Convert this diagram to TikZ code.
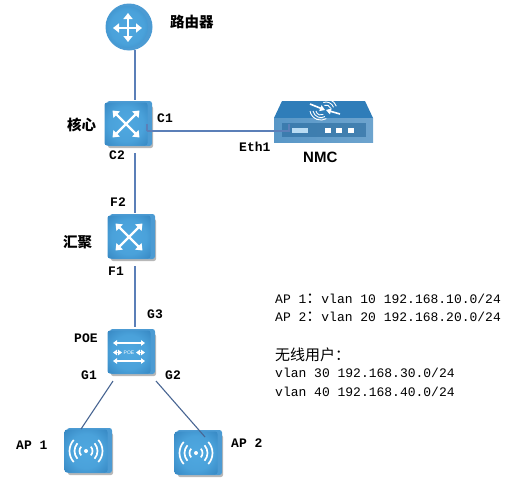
\documentclass[tikz,border=0pt]{standalone}
\usepackage{fontspec}
\usetikzlibrary{arrows.meta,shadings}
\newfontfamily\cjk{Noto Sans CJK SC}
\newfontfamily\lmono{Liberation Mono}
\newfontfamily\lsans{Liberation Sans}
\definecolor{faceedge}{HTML}{2F7DB9}
\definecolor{facemid}{HTML}{4FA8E0}
\definecolor{depthc}{HTML}{4C9BD3}
\definecolor{linkc}{HTML}{5B7FB8}
\pgfdeclareradialshading{facesh}{\pgfpointorigin}{color(0bp)=(facemid);color(20bp)=(facemid!85!faceedge);color(42bp)=(faceedge);color(100bp)=(faceedge)}
\tikzset{
  face/.style={rounded corners=2.5pt,minimum width=43pt,minimum height=43pt,inner sep=0pt,shading=facesh},
  link/.style={draw=linkc,line width=1.1pt},
  glyph/.style={draw=white,line width=2.4pt,line cap=butt},
  tip/.style={},
  arr/.style={glyph,{Triangle[length=6pt,width=9pt]}-{Triangle[length=6pt,width=9pt]}},
  thin arr/.style={draw=white,line width=1.3pt,{Triangle[length=4pt,width=5.5pt]}-{Triangle[length=4pt,width=5.5pt]}},
  cjklab/.style={font=\cjk\bfseries\fontsize{14.5}{16}\selectfont,text=black,inner sep=0pt},
  port/.style={font=\lmono\bfseries\fontsize{13}{15}\selectfont,text=black,inner sep=0pt},
  info/.style={font=\lmono\fontsize{13}{15}\selectfont,text=black,inner sep=0pt,anchor=west},
  infocjk/.style={font=\cjk\fontsize{15}{17}\selectfont,text=black,inner sep=0pt,anchor=west}
}
\newcommand{\devbody}[3]{%
  \fill[black!28,rounded corners=2pt] (#2-18,#3-18) rectangle (#2+27,#3+24);
  \fill[depthc,rounded corners=2.5pt] (#2-19,#3-23) rectangle (#2+26,#3+22);
  \node[face] (#1) at (#2,#3) {};
}
\newcommand{\crossglyph}[2]{%
  \draw[arr] (#1-13.5,#2-13.5) -- (#1+13.5,#2+13.5);
  \draw[arr] (#1-13.5,#2+13.5) -- (#1+13.5,#2-13.5);
}
\newcommand{\wifiglyph}[2]{%
  \fill[white] (#1,#2) circle (2pt);
  \foreach \r in {6.5,11.5,16.5}{
    \draw[white,line width=1.7pt] (#1,#2) ++(-42:\r pt) arc[start angle=-42,end angle=42,radius=\r pt];
    \draw[white,line width=1.7pt] (#1,#2) ++(138:\r pt) arc[start angle=138,end angle=222,radius=\r pt];
  }
}
\begin{document}
\begin{tikzpicture}[x=1pt,y=-1pt]
\useasboundingbox (0,0) rectangle (521,490);
% router
\fill[depthc] (129,27) circle (23.5pt);
\node[circle,minimum size=42pt,inner sep=0pt,shading=facesh] (router) at (127,27) {};
\draw[arr] (113,28) -- (142,28);
\draw[glyph,-{Triangle[length=6pt,width=9pt]}] (128,28) -- (128,13);
\draw[glyph,-{Triangle[length=6pt,width=9pt]}] (128,28) -- (128,42);
% devices
\devbody{core}{126}{124}
\crossglyph{126}{124}
\devbody{agg}{129}{237}
\crossglyph{129}{237}
\devbody{poe}{129}{352}
\draw[thin arr] (113,343) -- (145,343);
\draw[thin arr] (113,352.5) -- (122,352.5);
\draw[thin arr] (136,352.5) -- (145,352.5);
\draw[thin arr] (113,361) -- (145,361);
\node[font=\lsans\fontsize{5}{5}\selectfont,text=white,inner sep=0pt] (poetxt) at (129,352.5) {POE};
\devbody{ap1}{86}{451}
\wifiglyph{86}{451}
\devbody{ap2}{196}{453}
\wifiglyph{196}{453}
% NMC
\fill[faceedge] (282,101) -- (365,101) -- (373,118) -- (274,118) -- cycle;
\node[rectangle,minimum width=99pt,minimum height=24pt,inner sep=0pt,left color=faceedge!80!white,right color=faceedge!70!white] (nmc) at (323.5,130) {};
\fill[faceedge!85!black,opacity=.6] (282,123) rectangle (366,137);
\fill[white!60!facemid] (292,128) rectangle (308,132.5);
\fill[white] (325,128) rectangle (331,132.5);
\fill[white] (336,128) rectangle (342,132.5);
\fill[white] (348,128) rectangle (354,132.5);
\draw[white,line width=1.6pt,-{Triangle[length=5pt,width=6pt]}] (310,104) -- (325,110);
\draw[white,line width=1.6pt,-{Triangle[length=5pt,width=6pt]}] (340,114) -- (326,110);
\foreach \r in {5,8,11}{
  \draw[white,line width=.9pt] (321,106) ++(180:\r pt) ++(0,5) arc[start angle=190,end angle=300,radius=\r pt];
  \draw[white,line width=.9pt] (326,110) ++(20:\r pt) arc[start angle=20,end angle=110,radius=\r pt];
}
% connector ends
\coordinate (routerS) at (135,50);
\coordinate (coreN) at (135,100);
\coordinate (coreE) at (147,131);
\coordinate (coreS) at (135,153);
\coordinate (aggN) at (135,213);
\coordinate (aggS) at (135,266);
\coordinate (poeN) at (135,327);
\coordinate (poeSW) at (113,381);
\coordinate (poeSE) at (156,381);
\coordinate (ap1N) at (81,429);
\coordinate (ap2N) at (205,437);
\coordinate (nmcW) at (289,131);
\draw[link] (routerS) -- (coreN);
\draw[link] (coreE) -- (nmcW) -- ++(0,-7);
\draw[link] (coreE) -- ++(0,-7);
\draw[link] (coreS) -- (aggN);
\draw[link] (aggS) -- (poeN);
\draw[link,draw=linkc!80!black] (poeSW) -- (ap1N);
\draw[link,draw=linkc!80!black] (poeSE) -- (ap2N);
% labels
\node[cjklab,anchor=west] (l1) at (170,22) {路由器};
\node[cjklab,anchor=west] (l2) at (67,125) {核心};
\node[cjklab,anchor=west] (l3) at (63,242) {汇聚};
\node[port,anchor=west] (c1) at (157,118) {C1};
\node[port,anchor=west] (c2) at (109,155) {C2};
\node[port,anchor=west] (eth) at (239,147) {Eth1};
\node[font=\lsans\bfseries\fontsize{15}{15}\selectfont,inner sep=0pt,anchor=west] (nmclab) at (303,157) {NMC};
\node[port,anchor=west] (f2) at (110,202) {F2};
\node[port,anchor=west] (f1) at (108,271) {F1};
\node[port,anchor=west] (g3) at (147,314) {G3};
\node[port,anchor=west] (poel) at (74,338) {POE};
\node[port,anchor=west] (g1) at (81,375) {G1};
\node[port,anchor=west] (g2) at (165,375) {G2};
\node[port,anchor=west] (ap1l) at (16,445) {AP 1};
\node[port,anchor=west] (ap2l) at (231,443) {AP 2};
% info
\node[info] (i1) at (275,299) {AP 1{\cjk\fontsize{15}{17}\selectfont ：}vlan 10 192.168.10.0/24};
\node[info] (i2) at (275,317) {AP 2{\cjk\fontsize{15}{17}\selectfont ：}vlan 20 192.168.20.0/24};
\node[infocjk] (i3) at (275,355) {无线用户：};
\node[info] (i4) at (275,373) {vlan 30 192.168.30.0/24};
\node[info] (i5) at (275,392) {vlan 40 192.168.40.0/24};
\end{tikzpicture}
\end{document}
